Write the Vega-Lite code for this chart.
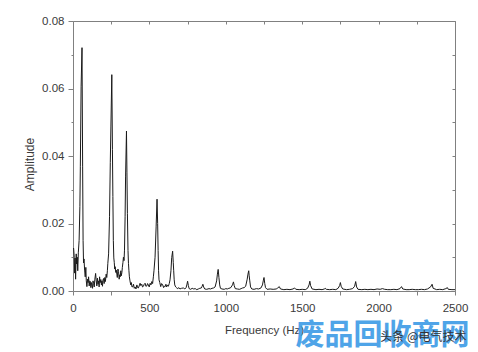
{
  "$schema": "https://vega.github.io/schema/vega-lite/v6.json",
  "autosize": "none",
  "width": 382,
  "height": 270,
  "padding": {"left": 73, "top": 21, "right": 23, "bottom": 61},
  "background": "white",
  "config": {"view": {"stroke": null}},
  "datasets": {
    "spec": [
      {"f":0,"a":0.0125},{"f":4,"a":0.0127},{"f":8,"a":0.0100},{"f":11,"a":0.0053},{"f":14,"a":0.0098},{"f":17,"a":0.0035},{"f":21,"a":0.0110},{"f":24,"a":0.0080},{"f":28,"a":0.0100},{"f":31,"a":0.0060},{"f":35,"a":0.0115},{"f":40,"a":0.0150},{"f":45,"a":0.0250},{"f":48,"a":0.0368},{"f":53,"a":0.0605},{"f":59,"a":0.0721},{"f":63,"a":0.0370},{"f":66,"a":0.0150},{"f":69,"a":0.0083},{"f":72,"a":0.0095},{"f":76,"a":0.0062},{"f":80,"a":0.0042},{"f":84,"a":0.0070},{"f":87,"a":0.0030},{"f":91,"a":0.0013},{"f":95,"a":0.0035},{"f":99,"a":0.0025},{"f":102,"a":0.0042},{"f":106,"a":0.0015},{"f":110,"a":0.0030},{"f":113,"a":0.0028},{"f":117,"a":0.0010},{"f":121,"a":0.0025},{"f":124,"a":0.0018},{"f":128,"a":0.0008},{"f":131,"a":0.0030},{"f":135,"a":0.0022},{"f":139,"a":0.0012},{"f":143,"a":0.0035},{"f":148,"a":0.0052},{"f":152,"a":0.0030},{"f":156,"a":0.0015},{"f":160,"a":0.0038},{"f":164,"a":0.0020},{"f":168,"a":0.0030},{"f":171,"a":0.0012},{"f":174,"a":0.0042},{"f":178,"a":0.0025},{"f":182,"a":0.0034},{"f":186,"a":0.0018},{"f":189,"a":0.0030},{"f":193,"a":0.0014},{"f":196,"a":0.0032},{"f":200,"a":0.0037},{"f":204,"a":0.0022},{"f":208,"a":0.0040},{"f":212,"a":0.0028},{"f":217,"a":0.0050},{"f":221,"a":0.0040},{"f":225,"a":0.0060},{"f":228,"a":0.0082},{"f":233,"a":0.0110},{"f":239,"a":0.0220},{"f":244,"a":0.0380},{"f":248,"a":0.0486},{"f":254,"a":0.0641},{"f":258,"a":0.0420},{"f":261,"a":0.0280},{"f":264,"a":0.0150},{"f":267,"a":0.0098},{"f":270,"a":0.0085},{"f":273,"a":0.0065},{"f":276,"a":0.0072},{"f":280,"a":0.0055},{"f":283,"a":0.0062},{"f":287,"a":0.0050},{"f":290,"a":0.0040},{"f":294,"a":0.0065},{"f":298,"a":0.0058},{"f":302,"a":0.0035},{"f":306,"a":0.0048},{"f":309,"a":0.0042},{"f":313,"a":0.0060},{"f":316,"a":0.0045},{"f":320,"a":0.0055},{"f":323,"a":0.0070},{"f":327,"a":0.0085},{"f":330,"a":0.0100},{"f":334,"a":0.0090},{"f":337,"a":0.0121},{"f":341,"a":0.0220},{"f":344,"a":0.0338},{"f":350,"a":0.0474},{"f":353,"a":0.0350},{"f":356,"a":0.0230},{"f":360,"a":0.0120},{"f":363,"a":0.0082},{"f":366,"a":0.0060},{"f":369,"a":0.0042},{"f":373,"a":0.0030},{"f":378,"a":0.0018},{"f":382,"a":0.0025},{"f":386,"a":0.0012},{"f":392,"a":0.0013},{"f":396,"a":0.0020},{"f":401,"a":0.0008},{"f":407,"a":0.0012},{"f":412,"a":0.0006},{"f":418,"a":0.0018},{"f":423,"a":0.0010},{"f":428,"a":0.0009},{"f":433,"a":0.0015},{"f":439,"a":0.0023},{"f":444,"a":0.0016},{"f":450,"a":0.0020},{"f":455,"a":0.0012},{"f":461,"a":0.0014},{"f":466,"a":0.0020},{"f":472,"a":0.0023},{"f":477,"a":0.0014},{"f":483,"a":0.0015},{"f":488,"a":0.0022},{"f":493,"a":0.0018},{"f":499,"a":0.0012},{"f":505,"a":0.0023},{"f":510,"a":0.0018},{"f":516,"a":0.0028},{"f":521,"a":0.0022},{"f":526,"a":0.0042},{"f":530,"a":0.0060},{"f":537,"a":0.0100},{"f":544,"a":0.0190},{"f":550,"a":0.0272},{"f":554,"a":0.0200},{"f":557,"a":0.0120},{"f":560,"a":0.0060},{"f":563,"a":0.0033},{"f":568,"a":0.0025},{"f":574,"a":0.0013},{"f":580,"a":0.0022},{"f":587,"a":0.0018},{"f":593,"a":0.0010},{"f":598,"a":0.0015},{"f":602,"a":0.0013},{"f":608,"a":0.0020},{"f":613,"a":0.0012},{"f":618,"a":0.0018},{"f":624,"a":0.0014},{"f":630,"a":0.0022},{"f":635,"a":0.0033},{"f":641,"a":0.0060},{"f":646,"a":0.0099},{"f":652,"a":0.0118},{"f":656,"a":0.0085},{"f":659,"a":0.0060},{"f":662,"a":0.0035},{"f":666,"a":0.0018},{"f":672,"a":0.0012},{"f":679,"a":0.0009},{"f":686,"a":0.0007},{"f":693,"a":0.0010},{"f":700,"a":0.0006},{"f":710,"a":0.0008},{"f":722,"a":0.0009},{"f":732,"a":0.0006},{"f":740,"a":0.0010},{"f":745,"a":0.0018},{"f":750,"a":0.0029},{"f":755,"a":0.0016},{"f":760,"a":0.0007},{"f":770,"a":0.0005},{"f":780,"a":0.0008},{"f":790,"a":0.0006},{"f":800,"a":0.0007},{"f":810,"a":0.0004},{"f":820,"a":0.0006},{"f":830,"a":0.0008},{"f":840,"a":0.0009},{"f":845,"a":0.0014},{"f":850,"a":0.0020},{"f":855,"a":0.0012},{"f":862,"a":0.0006},{"f":875,"a":0.0005},{"f":890,"a":0.0007},{"f":900,"a":0.0006},{"f":910,"a":0.0008},{"f":920,"a":0.0009},{"f":930,"a":0.0012},{"f":940,"a":0.0030},{"f":945,"a":0.0050},{"f":950,"a":0.0064},{"f":955,"a":0.0040},{"f":960,"a":0.0018},{"f":965,"a":0.0008},{"f":975,"a":0.0006},{"f":990,"a":0.0005},{"f":1000,"a":0.0007},{"f":1010,"a":0.0006},{"f":1020,"a":0.0008},{"f":1030,"a":0.0009},{"f":1040,"a":0.0015},{"f":1045,"a":0.0020},{"f":1050,"a":0.0027},{"f":1055,"a":0.0016},{"f":1062,"a":0.0007},{"f":1075,"a":0.0006},{"f":1090,"a":0.0005},{"f":1100,"a":0.0007},{"f":1110,"a":0.0009},{"f":1120,"a":0.0010},{"f":1130,"a":0.0014},{"f":1140,"a":0.0035},{"f":1145,"a":0.0050},{"f":1150,"a":0.0060},{"f":1153,"a":0.0045},{"f":1157,"a":0.0030},{"f":1162,"a":0.0012},{"f":1170,"a":0.0006},{"f":1185,"a":0.0005},{"f":1200,"a":0.0007},{"f":1215,"a":0.0006},{"f":1230,"a":0.0009},{"f":1240,"a":0.0018},{"f":1245,"a":0.0030},{"f":1250,"a":0.0040},{"f":1255,"a":0.0022},{"f":1260,"a":0.0010},{"f":1270,"a":0.0005},{"f":1290,"a":0.0006},{"f":1310,"a":0.0005},{"f":1330,"a":0.0006},{"f":1340,"a":0.0009},{"f":1350,"a":0.0013},{"f":1358,"a":0.0006},{"f":1380,"a":0.0004},{"f":1400,"a":0.0005},{"f":1420,"a":0.0004},{"f":1440,"a":0.0006},{"f":1450,"a":0.0009},{"f":1458,"a":0.0005},{"f":1480,"a":0.0004},{"f":1500,"a":0.0005},{"f":1520,"a":0.0004},{"f":1535,"a":0.0008},{"f":1545,"a":0.0018},{"f":1550,"a":0.0029},{"f":1555,"a":0.0016},{"f":1565,"a":0.0006},{"f":1590,"a":0.0004},{"f":1610,"a":0.0005},{"f":1630,"a":0.0004},{"f":1645,"a":0.0006},{"f":1650,"a":0.0008},{"f":1658,"a":0.0005},{"f":1680,"a":0.0004},{"f":1700,"a":0.0005},{"f":1720,"a":0.0004},{"f":1735,"a":0.0008},{"f":1745,"a":0.0016},{"f":1750,"a":0.0025},{"f":1755,"a":0.0014},{"f":1765,"a":0.0006},{"f":1790,"a":0.0004},{"f":1810,"a":0.0005},{"f":1830,"a":0.0007},{"f":1843,"a":0.0014},{"f":1850,"a":0.0028},{"f":1856,"a":0.0012},{"f":1865,"a":0.0005},{"f":1890,"a":0.0004},{"f":1910,"a":0.0005},{"f":1930,"a":0.0004},{"f":1950,"a":0.0005},{"f":1970,"a":0.0004},{"f":1990,"a":0.0006},{"f":2010,"a":0.0005},{"f":2025,"a":0.0007},{"f":2040,"a":0.0005},{"f":2060,"a":0.0004},{"f":2080,"a":0.0004},{"f":2100,"a":0.0005},{"f":2120,"a":0.0004},{"f":2140,"a":0.0007},{"f":2150,"a":0.0013},{"f":2158,"a":0.0006},{"f":2180,"a":0.0004},{"f":2200,"a":0.0004},{"f":2220,"a":0.0005},{"f":2240,"a":0.0004},{"f":2260,"a":0.0004},{"f":2280,"a":0.0005},{"f":2300,"a":0.0004},{"f":2320,"a":0.0006},{"f":2340,"a":0.0012},{"f":2350,"a":0.0020},{"f":2357,"a":0.0008},{"f":2380,"a":0.0004},{"f":2400,"a":0.0005},{"f":2420,"a":0.0004},{"f":2440,"a":0.0007},{"f":2450,"a":0.0010},{"f":2456,"a":0.0005},{"f":2480,"a":0.0004},{"f":2500,"a":0.0004}
    ]
  },
  "layer": [
    {
      "data": {"name": "spec"},
      "mark": {"type": "line", "color": "#1a1a1a", "strokeWidth": 1, "clip": true},
      "encoding": {
        "x": {
          "field": "f", "type": "quantitative",
          "scale": {"domain": [0, 2500], "nice": false, "zero": false},
          "axis": {
            "orient": "bottom",
            "values": [0, 250, 500, 750, 1000, 1250, 1500, 1750, 2000, 2250, 2500],
            "format": "d",
            "labelExpr": "datum.value % 500 == 0 ? datum.label : ''",
            "grid": false,
            "tickSize": 4,
            "tickColor": "#808080",
            "domainColor": "#808080",
            "labelFont": "Liberation Sans Narrow, Arial Narrow, Liberation Sans, Arial",
            "labelFontSize": 11.5,
            "labelColor": "#3a3a3a",
            "labelPadding": 7,
            "labelFlush": false,
            "labelOverlap": false,
            "title": "Frequency (Hz)",
            "titleFont": "Liberation Sans Narrow, Arial Narrow, Liberation Sans, Arial",
            "titleFontSize": 11.5,
            "titleFontWeight": "normal",
            "titleColor": "#3a3a3a",
            "titlePadding": 11
          }
        },
        "y": {
          "field": "a", "type": "quantitative",
          "scale": {"domain": [0, 0.08], "nice": false, "zero": false},
          "axis": {
            "orient": "left",
            "values": [0, 0.01, 0.02, 0.03, 0.04, 0.05, 0.06, 0.07, 0.08],
            "format": ".2f",
            "labelExpr": "round(datum.value * 100) % 2 == 0 ? datum.label : ''",
            "grid": false,
            "tickSize": {"condition": {"test": "round(datum.value * 100) % 2 == 0", "value": 5}, "value": 2},
            "tickColor": "#808080",
            "domainColor": "#808080",
            "labelFont": "Liberation Sans Narrow, Arial Narrow, Liberation Sans, Arial",
            "labelFontSize": 11.5,
            "labelColor": "#3a3a3a",
            "labelPadding": 4,
            "labelFlush": false,
            "labelOverlap": false,
            "title": "Amplitude",
            "titleFont": "Liberation Sans, Arial",
            "titleFontSize": 12,
            "titleFontWeight": "normal",
            "titleColor": "#3a3a3a",
            "titleX": -44,
            "titleY": 143,
            "titleAlign": "center",
            "titleBaseline": "middle",
            "titleAngle": 270
          }
        }
      }
    },
    {
      "data": {"name": "spec"},
      "mark": {"type": "line", "opacity": 0},
      "encoding": {
        "x": {
          "field": "f", "type": "quantitative",
          "scale": {"domain": [0, 2500], "nice": false, "zero": false},
          "axis": {
            "orient": "top",
            "values": [0, 250, 500, 750, 1000, 1250, 1500, 1750, 2000, 2250, 2500],
            "labels": false, "title": null, "grid": false,
            "tickSize": -3, "tickColor": "#808080", "domainColor": "#808080"
          }
        },
        "y": {
          "field": "a", "type": "quantitative",
          "scale": {"domain": [0, 0.08], "nice": false, "zero": false},
          "axis": {
            "orient": "right",
            "values": [0, 0.01, 0.02, 0.03, 0.04, 0.05, 0.06, 0.07, 0.08],
            "labels": false, "title": null, "grid": false,
            "tickSize": -3, "tickColor": "#808080", "domainColor": "#808080"
          }
        }
      }
    },
    {
      "data": {"values": [{"f": 2025, "a": -0.0134, "t": "废品回收商网"}]},
      "mark": {"type": "text", "font": "Noto Sans CJK SC", "fontSize": 29, "fontWeight": "bold", "color": "#3d9be6", "opacity": 0.9, "align": "center", "baseline": "middle"},
      "encoding": {
        "x": {"field": "f", "type": "quantitative", "scale": {"domain": [0, 2500], "nice": false, "zero": false}, "axis": null},
        "y": {"field": "a", "type": "quantitative", "scale": {"domain": [0, 0.08], "nice": false, "zero": false}, "axis": null},
        "text": {"field": "t"}
      }
    },
    {
      "data": {"values": [{"f": 2293, "a": -0.0136, "t": "头条 @电气技术"}]},
      "mark": {"type": "text", "font": "Noto Sans CJK SC", "fontSize": 12, "color": "#333333", "align": "center", "baseline": "middle"},
      "encoding": {
        "x": {"field": "f", "type": "quantitative", "scale": {"domain": [0, 2500], "nice": false, "zero": false}, "axis": null},
        "y": {"field": "a", "type": "quantitative", "scale": {"domain": [0, 0.08], "nice": false, "zero": false}, "axis": null},
        "text": {"field": "t"}
      }
    }
  ],
  "resolve": {"axis": {"x": "independent", "y": "independent"}}
}
